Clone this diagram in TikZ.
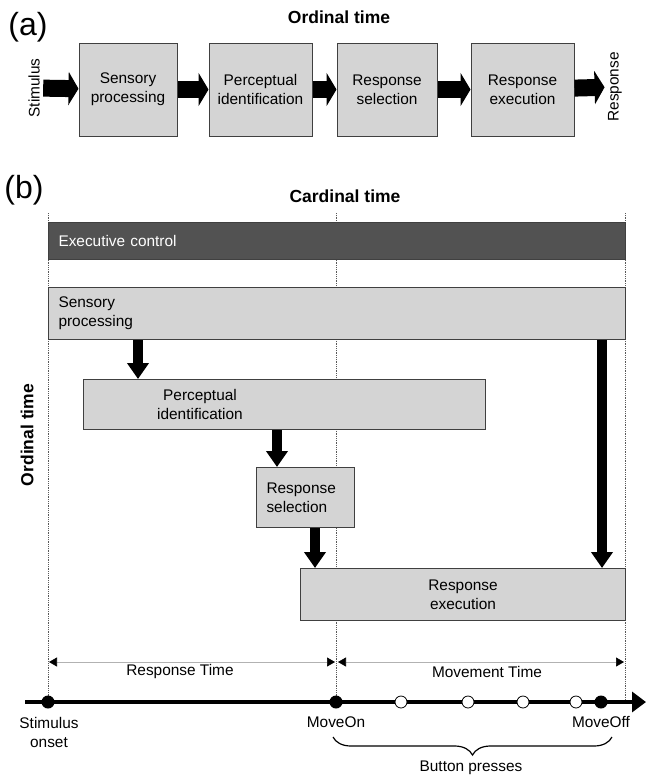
\documentclass[tikz,border=0pt]{standalone}
\usepackage{fontspec}
\setmainfont{Liberation Sans}
\usetikzlibrary{arrows.meta,decorations.pathreplacing}

\begin{document}
\begin{tikzpicture}[x=1pt,y=-1pt,
        font=\fontsize{15.4}{19}\selectfont,
        procA/.style={draw=black!75,line width=1pt,fill=black!17,minimum height=93pt,align=center},
        procB/.style={draw=black!75,line width=1pt,fill=black!17,anchor=north west},
        fatarrow/.style={line width=17pt,-{Triangle[length=10pt,width=33pt]}},
        downarrow/.style={line width=10pt,-{Triangle[length=16pt,width=21pt]}},
        guide/.style={densely dotted,line width=0.8pt,black!65},
        dimline/.style={line width=0.6pt,black!30,
            {Triangle[length=8pt,width=9pt,color=black]}-{Triangle[length=8pt,width=9pt,color=black]}},
        fdot/.style={circle,fill=black,inner sep=0pt,minimum size=13pt},
        odot/.style={circle,draw=black,fill=white,line width=0.8pt,inner sep=0pt,minimum size=12pt},
        heading/.style={font=\fontsize{17.5}{21}\selectfont\bfseries},
        panel/.style={font=\fontsize{32}{36}\selectfont}]
    \useasboundingbox (0,0) rectangle (647,779);

    % (a) ordinal time
    \node[panel] (pa) at (28,27) {(a)};
    \node[heading] (ordA) at (339,17) {Ordinal time};
    \node[rotate=90] (stim) at (34,88) {Stimulus};
    \node[procA,minimum width=98pt] (sensA) at (128,89.5) {Sensory\\processing};
    \node[procA,minimum width=103pt] (percA) at (260.5,89.5) {Perceptual\\identification};
    \node[procA,minimum width=100pt] (selA) at (387,89.5) {Response\\selection};
    \node[procA,minimum width=103pt] (exeA) at (522.5,89.5) {Response\\execution};
    \node[rotate=90] (resp) at (615,87) {Response};
    \draw[fatarrow] (stim) -- (sensA);
    \draw[fatarrow] (sensA) -- (percA);
    \draw[fatarrow] (percA) -- (selA);
    \draw[fatarrow] (selA) -- (exeA);
    \draw[fatarrow] (exeA) -- (resp);

    % (b) cardinal time
    \node[panel] (pb) at (24,190) {(b)};
    \node[heading] (card) at (345,196) {Cardinal time};
    \node[heading,rotate=90] (ordB) at (27,435) {Ordinal time};
    \foreach \x in {48,336,625}
        \draw[guide] (\x,213) -- (\x,702);

    \node[procB,fill=black!68,text=white,minimum height=37pt,text width=557pt,
        inner xsep=10pt,align=left] (ctl) at (48,222) {Executive control};
    \node[procB,minimum height=52pt,text width=557pt,inner xsep=10pt,align=left]
        (sens) at (48,287) {Sensory\\processing};
    \node[procB,minimum width=402pt,minimum height=50pt] (perc) at (83,379) {};
    \node[align=center] (percT) at (200,404) {Perceptual\\identification};
    \node[procB,minimum height=60pt,text width=78pt,inner xsep=10pt,align=left]
        (sel) at (256,467) {Response\\selection};
    \node[procB,minimum width=325pt,minimum height=52pt,align=center]
        (exe) at (300,568) {Response\\execution};

    \draw[downarrow] ([xshift=90pt]sens.south west) -- ([xshift=55pt]perc.north west);
    \draw[downarrow] ([xshift=194pt]perc.south west) -- ([xshift=21pt]sel.north west);
    \draw[downarrow] ([xshift=59pt]sel.south west) -- ([xshift=15pt]exe.north west);
    \draw[downarrow] ([xshift=-24pt]sens.south east) -- ([xshift=-24pt]exe.north east);

    % time line
    \coordinate (d0) at (49,662);
    \coordinate (d1) at (335,662);
    \coordinate (d2) at (338,662);
    \coordinate (d3) at (624,662);
    \draw[dimline] (d0) -- (d1);
    \draw[dimline] (d2) -- (d3);
    \node (rt) at (180,672) {Response Time};
    \node (mt) at (487,672) {Movement Time};

    \coordinate (tl0) at (25,702);
    \coordinate (tl1) at (646,702);
    \draw[line width=3.5pt,-{Triangle[length=14pt,width=20pt]}] (tl0) -- (tl1);
    \node[fdot] (onset) at (48,702) {};
    \node[fdot] (moveon) at (336,702) {};
    \node[odot] (b1) at (401,702) {};
    \node[odot] (b2) at (468,702) {};
    \node[odot] (b3) at (523,702) {};
    \node[odot] (b4) at (576,702) {};
    \node[fdot] (moveoff) at (601,702) {};
    \node[align=center] (onsetT) at (49,732) {Stimulus\\onset};
    \node (moveonT) at (336,722) {MoveOn};
    \node (moveoffT) at (601,722) {MoveOff};

    \coordinate (br0) at (612,737);
    \coordinate (br1) at (333,737);
    \draw[line width=1.2pt,decorate,decoration={brace,amplitude=18pt}] (br0) -- (br1);
    \node (press) at (471,768) {Button presses};
\end{tikzpicture}
\end{document}
